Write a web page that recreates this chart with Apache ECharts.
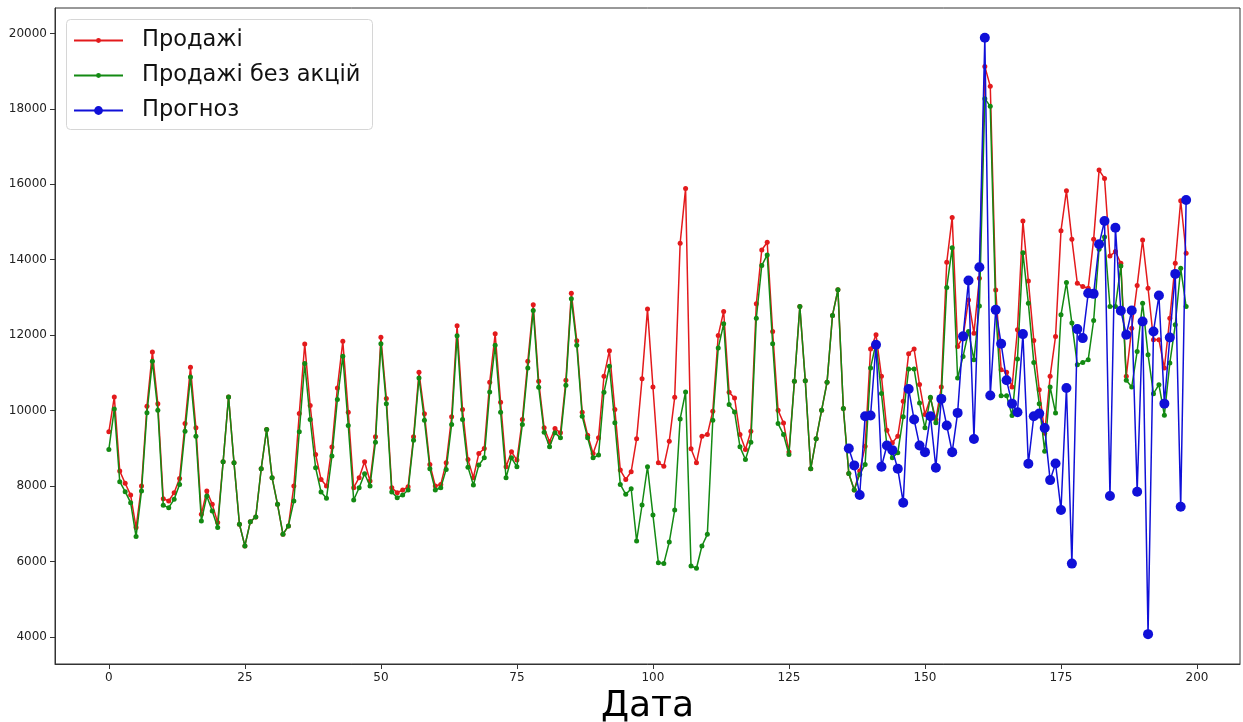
<!DOCTYPE html>
<html>
<head>
<meta charset="utf-8">
<script src="https://cdn.jsdelivr.net/npm/echarts@6/dist/echarts.min.js"></script>
<style>
html, body { margin: 0; padding: 0; background: #fff; }
#chart { width: 1243px; height: 722px; }
</style>
</head>
<body>
<div id="chart"></div>
<script>
// sales with promotions, day 0..198
var sales = [
    9437, 10363, 8396, 8070, 7761, 6897, 8000, 10116, 11553, 10178,
    7664, 7602, 7823, 8202, 9657, 11148, 9543, 7249, 7867, 7514,
    7029, 8643, 10363, 8616, 6985, 6411, 7055, 7179, 8458, 9498,
    8220, 7514, 6720, 6941, 8000, 9922, 11765, 10133, 8837, 8175,
    8000, 9031, 10601, 11836, 9957, 7955, 8220, 8643, 8131, 9304,
    11942, 10319, 7955, 7823, 7893, 7981, 9304, 11016, 9913, 8572,
    8000, 8043, 8616, 9834, 12250, 10028, 8700, 8219, 8863, 8995,
    10750, 12038, 10221, 8510, 8907, 8687, 9763, 11306, 12806, 10777,
    9542, 9172, 9524, 9410, 10803, 13114, 11853, 9957, 9348, 8863,
    9277, 10909, 11588, 10027, 8422, 8175, 8378, 9251, 10847, 12691,
    10627, 8614, 8526, 9188, 10352, 14436, 15891, 8985, 8614, 9320,
    9364, 9982, 11992, 12627, 10484, 10334, 9364, 8967, 9452, 12830,
    14259, 14462, 12098, 10008, 9673, 8900, 10775, 12760, 10793, 8456,
    9250, 10008, 10749, 12522, 13201, 10054, 8334, 7893, 8396, 9057,
    11633, 12012, 10909, 9481, 9145, 9322, 10248, 11509, 11633, 10689,
    9895, 10336, 9763, 10627, 13932, 15123, 11700, 11950, 12935, 12053,
    13509, 19127, 18598, 13200, 11083, 11013, 10625, 12142, 15026, 13439,
    11860, 10555, 9400, 10907, 11966, 14771, 15829, 14541, 13377, 13289,
    13245, 14541, 16376, 16155, 14100, 14215, 13906, 10907, 12186, 13315,
    14524, 13245, 11878, 11878, 11128, 12451, 13906, 15564, 14171
];

// sales without promotions
var salesNoPromo = [
    8969, 10045, 8114, 7849, 7558, 6658, 7867, 9940, 11306, 10010,
    7487, 7426, 7646, 8043, 9454, 10892, 9322, 7073, 7734, 7338,
    6897, 8643, 10363, 8616, 6985, 6411, 7055, 7179, 8458, 9498,
    8220, 7514, 6720, 6941, 7602, 9437, 11245, 9763, 8484, 7840,
    7673, 8793, 10292, 11439, 9604, 7629, 7955, 8325, 8000, 9163,
    11774, 10178, 7840, 7690, 7761, 7893, 9216, 10865, 9745, 8458,
    7893, 7955, 8440, 9631, 11986, 9763, 8500, 8025, 8554, 8748,
    10495, 11729, 9957, 8219, 8748, 8510, 9630, 11130, 12656, 10618,
    9427, 9039, 9410, 9277, 10671, 12964, 11729, 9851, 9277, 8748,
    8819, 10486, 11174, 9674, 8043, 7778, 7928, 6543, 7496, 8510,
    7229, 5968, 5942, 6515, 7362, 9779, 10493, 5880, 5818, 6409,
    6718, 9743, 11657, 12301, 10158, 9964, 9038, 8703, 9161, 12451,
    13845, 14127, 11772, 9655, 9364, 8835, 10775, 12760, 10793, 8456,
    9250, 10008, 10749, 12522, 13201, 10054, 8334, 7893, 8308, 8572,
    11130, 11791, 10451, 9075, 8748, 8881, 9833, 11103, 11103, 10204,
    9542, 10354, 9675, 10380, 13262, 14320, 10862, 11436, 12097, 11348,
    12776, 18271, 18068, 12671, 10395, 10396, 9867, 11366, 14188, 12848,
    11278, 10184, 8923, 10625, 9937, 12539, 13395, 12319, 11216, 11278,
    11349, 12389, 14277, 14600, 12760, 12760, 13836, 10802, 10625, 11569,
    12848, 11481, 10449, 10687, 9876, 11260, 12275, 13774, 12760
];

// forecast, days 136..198
var forecastStart = 136;
var forecast = [
    8995, 8546, 7761, 9851, 9869, 11747, 8510, 9075, 8951, 8457,
    7558, 10574, 9763, 9075, 8898, 9851, 8484, 10310, 9604, 8898,
    9939, 11968, 13447, 9248, 13800, 19885, 10398, 12671, 11771, 10802,
    10184, 9955, 12028, 8590, 9849, 9920, 9540, 8156, 8597, 7362,
    10599, 5942, 12160, 11922, 13113, 13095, 14409, 15026, 7733, 14850,
    12645, 12010, 12654, 7847, 12363, 4072, 12098, 13051, 10184, 11939,
    13624, 7450, 15582
];

var xTicks = [0, 25, 50, 75, 100, 125, 150, 175, 200];
var yTicks = [4000, 6000, 8000, 10000, 12000, 14000, 16000, 18000, 20000];

var names = ['Продажі', 'Продажі без акцій', 'Прогноз'];
var colors = ['#e31a1c', '#138a13', '#1010d8'];

var chart = echarts.init(document.getElementById('chart'), null, {renderer: 'canvas'});

var font = 'DejaVu Sans';

// one legend per entry so each icon can have its own marker size
function legendItem(name, top, iconH) {
    return {
        orient: 'vertical',
        left: 73, top: top,
        padding: 0,
        z: 20,
        itemWidth: 49,
        itemHeight: iconH,
        textStyle: {fontSize: 22.5, color: '#111', fontFamily: font, padding: [0, 0, 0, 14]},
        data: [name]
    };
}

chart.setOption({
    animation: false,
    backgroundColor: '#fff',
    textStyle: {fontFamily: font},
    grid: {
        left: 55, top: 8, width: 1185, height: 656,
        outerBoundsMode: 'none',
        containLabel: false,
        show: true, borderColor: '#333', borderWidth: 1
    },
    graphic: [{
        type: 'rect',
        left: 66, top: 19, z: 3,
        shape: {width: 306, height: 110, r: 4},
        style: {fill: 'rgba(255,255,255,0.85)', stroke: '#d6d6d6', lineWidth: 1}
    }],
    legend: [
        legendItem(names[0], 29, 6),
        legendItem(names[1], 64, 6),
        legendItem(names[2], 99, 11)
    ],
    xAxis: {
        type: 'value',
        min: -9.9, max: 207.9,
        name: 'Дата',
        nameLocation: 'middle',
        nameGap: 22,
        nameTextStyle: {fontSize: 36, color: '#000', fontFamily: font},
        splitLine: {show: false},
        axisLine: {show: true, onZero: false, lineStyle: {color: '#333'}},
        axisTick: {show: true, customValues: xTicks, length: 5, lineStyle: {color: '#333'}},
        axisLabel: {customValues: xTicks, fontSize: 12, color: '#222', margin: 8}
    },
    yAxis: {
        type: 'value',
        min: 3280, max: 20675,
        splitLine: {show: false},
        axisLine: {show: true, onZero: false, lineStyle: {color: '#333'}},
        axisTick: {show: true, customValues: yTicks, length: 5, lineStyle: {color: '#333'}},
        axisLabel: {
            customValues: yTicks, fontSize: 12, color: '#222', margin: 8,
            formatter: function (v) { return String(v); }
        }
    },
    series: [
        {
            name: names[0],
            type: 'line',
            data: sales.map(function (v, i) { return [i, v]; }),
            symbol: 'circle', symbolSize: 5,
            color: colors[0],
            lineStyle: {width: 1.5},
            z: 2
        },
        {
            name: names[1],
            type: 'line',
            data: salesNoPromo.map(function (v, i) { return [i, v]; }),
            symbol: 'circle', symbolSize: 5,
            color: colors[1],
            lineStyle: {width: 1.5},
            z: 3
        },
        {
            name: names[2],
            type: 'line',
            data: forecast.map(function (v, i) { return [forecastStart + i, v]; }),
            symbol: 'circle', symbolSize: 10,
            color: colors[2],
            lineStyle: {width: 1.5},
            z: 4
        }
    ]
});
</script>
</body>
</html>
